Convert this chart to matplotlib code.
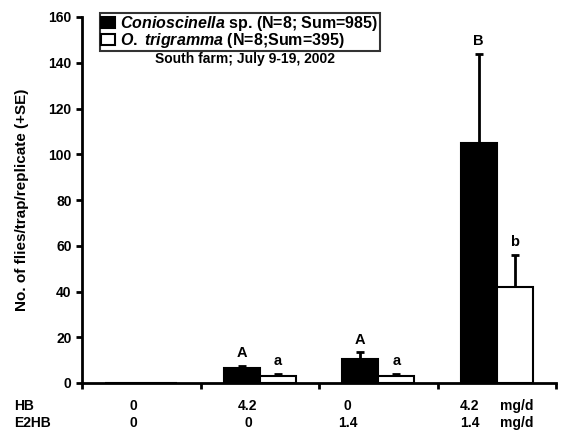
import numpy as np
import matplotlib
matplotlib.use("Agg")
import matplotlib.pyplot as plt

plt.rcParams['font.family'] = ['Liberation Sans', 'DejaVu Sans']
plt.rcParams['font.weight'] = 'bold'
plt.rcParams['mathtext.fontset'] = 'custom'
plt.rcParams['mathtext.it'] = 'Liberation Sans:italic:bold'
plt.rcParams['mathtext.rm'] = 'Liberation Sans:bold'

# data
groups = ['0/0', '4.2/0', '0/1.4', '4.2/1.4']
hb = ['0', '4.2', '0', '4.2']
e2hb = ['0', '0', '1.4', '1.4']
con_mean = [0, 6.5, 10.5, 105]
con_se = [0, 1.0, 3.0, 39]
otr_mean = [0, 3.0, 3.0, 42]
otr_se = [0, 1.0, 1.0, 14]
con_letters = ['', 'A', 'A', 'B']
otr_letters = ['', 'a', 'a', 'b']

fig = plt.figure(figsize=(5.61, 4.33), dpi=100)
ax = fig.add_axes([82/561, 50/433, 474/561, 366/433])

x = np.arange(len(groups))
w = 0.305
ax.bar(x - w/2, con_mean, w, color='black', edgecolor='black', linewidth=1.5,
       label='Conioscinella sp. (N=8; Sum=985)', zorder=2)
ax.bar(x + w/2, otr_mean, w, color='white', edgecolor='black', linewidth=1.5,
       label='O. trigramma (N=8;Sum=395)', zorder=2)
ax.errorbar(x - w/2, con_mean, yerr=[np.zeros(4), con_se], fmt='none',
            ecolor='black', elinewidth=2, capsize=3, capthick=2, zorder=1)
ax.errorbar(x + w/2, otr_mean, yerr=[np.zeros(4), otr_se], fmt='none',
            ecolor='black', elinewidth=2, capsize=3, capthick=2, zorder=1)

for i in range(len(groups)):
    if con_letters[i]:
        ax.annotate(con_letters[i], (x[i] - w/2, con_mean[i] + con_se[i]),
                    xytext=(0, 4), textcoords='offset points', ha='center',
                    va='bottom', fontsize=10.5, fontweight='bold')
    if otr_letters[i]:
        ax.annotate(otr_letters[i], (x[i] + w/2, otr_mean[i] + otr_se[i]),
                    xytext=(0, 4), textcoords='offset points', ha='center',
                    va='bottom', fontsize=10.5, fontweight='bold')

ax.set_xlim(-0.5, len(groups) - 0.5)
ax.set_ylim(0, 160)
ax.set_yticks(np.arange(0, 161, 20))
ax.set_xticks(np.arange(-0.5, len(groups)))
ax.set_xticklabels([])
ax.tick_params(axis='both', direction='out', width=2, length=4, labelsize=10)
for lab in ax.get_yticklabels():
    lab.set_fontweight('bold')
for s in ['top', 'right']:
    ax.spines[s].set_visible(False)
for s in ['left', 'bottom']:
    ax.spines[s].set_linewidth(2)

ax.set_ylabel('No. of flies/trap/replicate (+SE)', fontsize=11,
              fontweight='bold', labelpad=14)

# dose table under the axis
lab_x = [-0.07, 0.90, 1.74, 2.77]
fig.text(14/561, 1 - 406/433, 'HB', fontsize=10, fontweight='bold', va='center')
fig.text(14/561, 1 - 423/433, 'E2HB', fontsize=10, fontweight='bold', va='center')
for i in range(len(groups)):
    ax.text(lab_x[i], -0.064, hb[i], transform=ax.get_xaxis_transform(),
            ha='center', va='center', fontsize=10, fontweight='bold')
    ax.text(lab_x[i], -0.11, e2hb[i], transform=ax.get_xaxis_transform(),
            ha='center', va='center', fontsize=10, fontweight='bold')
for yy in [-0.064, -0.11]:
    ax.text(3.03, yy, 'mg/d', transform=ax.get_xaxis_transform(),
            ha='left', va='center', fontsize=10, fontweight='bold')

leg = ax.legend(loc='upper left', bbox_to_anchor=(0.038, 1.012), frameon=True,
                fancybox=False, edgecolor='black', fontsize=11.5,
                handlelength=0.85, handleheight=0.7, handletextpad=0.35,
                borderpad=0.08, labelspacing=-0.12, borderaxespad=0)
leg.get_frame().set_linewidth(1.5)
t1, t2 = leg.get_texts()
t1.set_text(r'$\it{Conioscinella}$ sp. (N=8; Sum=985)')
t2.set_text(r'$\it{O.}$ $\it{trigramma}$ (N=8;Sum=395)')
ax.text(0.344, 0.884, 'South farm; July 9-19, 2002', transform=ax.transAxes,
        ha='center', va='center', fontsize=10, fontweight='bold')

fig.savefig('out.png', dpi=100)
